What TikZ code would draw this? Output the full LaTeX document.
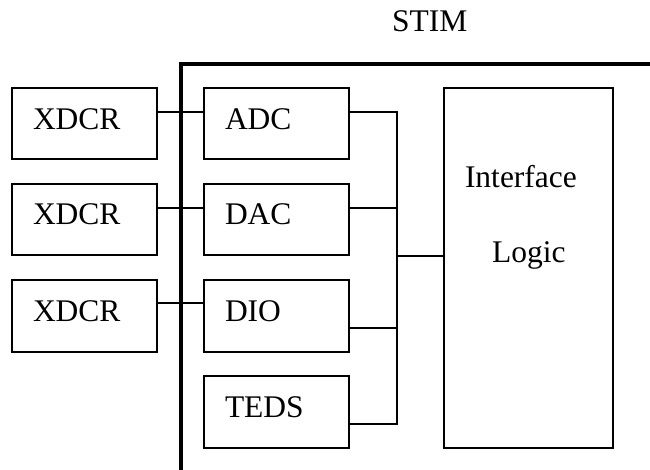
\documentclass[tikz,border=0pt]{standalone}
\usepackage{fontspec}
\setmainfont{Liberation Serif}
\usetikzlibrary{calc}
\tikzset{
  boxed/.style={draw, rectangle, line width=1.8pt, inner sep=0pt, outer sep=0pt},
  wire/.style={line width=1.4pt},
  frame/.style={line width=3.4pt},
  label/.style={anchor=base west, inner sep=0pt, outer sep=0pt,
                font=\fontsize{31.5}{38}\selectfont}
}
\begin{document}
\begin{tikzpicture}[x=1pt, y=-1pt]
\useasboundingbox (0,0) rectangle (650,470);

% STIM enclosure
\coordinate (fb) at (181,470);
\coordinate (fc) at (181,64);
\coordinate (fr) at (650,64);
\draw[frame] (fb) -- (fc) -- (fr);
\node[label] (stim) at (392,32) {STIM};

% transducers
\node[boxed, minimum width=145pt, minimum height=71pt] (x1) at (84.5,123.5) {};
\node[boxed, minimum width=145pt, minimum height=71pt] (x2) at (84.5,219.5) {};
\node[boxed, minimum width=145pt, minimum height=72pt] (x3) at (84.5,316) {};
\node[label] (x1t) at (33,130) {XDCR};
\node[label] (x2t) at (33,225) {XDCR};
\node[label] (x3t) at (33,321) {XDCR};

% converters and TEDS
\node[boxed, minimum width=145pt, minimum height=71pt] (adc) at (276.5,123.5) {};
\node[boxed, minimum width=145pt, minimum height=71pt] (dac) at (276.5,219.5) {};
\node[boxed, minimum width=145pt, minimum height=72pt] (dio) at (276.5,316) {};
\node[boxed, minimum width=145pt, minimum height=72pt] (teds) at (276.5,412) {};
\node[label] (adct) at (225,130) {ADC};
\node[label] (dact) at (225,225) {DAC};
\node[label] (diot) at (225,321) {DIO};
\node[label] (tedst) at (225,417) {TEDS};

% interface logic
\node[boxed, minimum width=169pt, minimum height=360pt] (il) at (528.5,268) {};
\node[label] (ilt1) at (465,188) {Interface};
\node[label] (ilt2) at (492,262) {Logic};

% transducer links
\draw[wire] ($(x1.north east)+(0,24)$) -- ($(adc.north west)+(0,24)$);
\draw[wire] ($(x2.north east)+(0,24)$) -- ($(dac.north west)+(0,24)$);
\draw[wire] ($(x3.north east)+(0,23)$) -- ($(dio.north west)+(0,23)$);

% internal bus
\coordinate (bus) at (397,256);
\draw[wire] ($(adc.north east)+(0,24)$) -| ($(teds.north east)+(48,48)$) -- ($(teds.north east)+(0,48)$);
\draw[wire] ($(dac.north east)+(0,24)$) -- ++(48,0);
\draw[wire] ($(dio.north east)+(0,48)$) -- ++(48,0);
\draw[wire] (bus) -- (bus -| il.west);
\end{tikzpicture}
\end{document}
